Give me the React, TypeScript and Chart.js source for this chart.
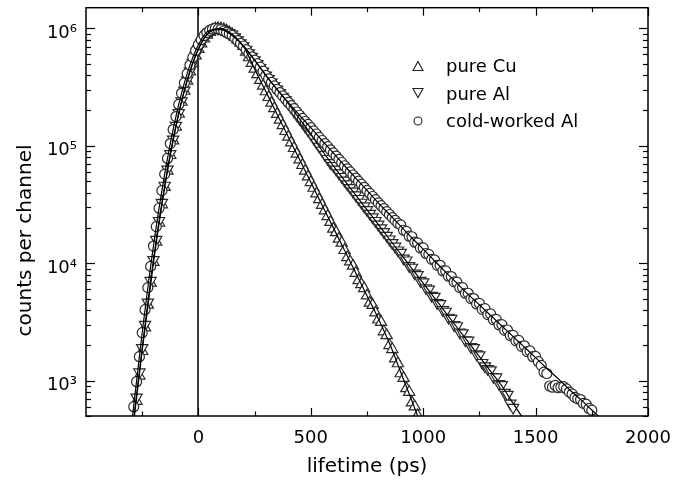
import React, { useEffect, useRef } from "react";
import { Chart, registerables } from "chart.js";

Chart.register(...registerables);

// ---- data (counts per channel, channel width 12.5 ps) ----
const CHANNEL_PS = 12.5;
const CU_START_PS = -275;
const AL_START_PS = -275;
const CW_START_PS = -287.5;

// pure Cu: -275 ps ... 975 ps
const CU_COUNTS = [
  670, 1100, 1780, 2830, 4420, 6790, 10200, 15200, 22100, 31600,
  44400, 61200, 83100, 110700, 145200, 186600, 236000, 293000, 357000, 428000,
  506000, 585000, 665000, 743000, 816000, 881000, 933000, 972000, 995000, 1000000,
  995000, 980000, 955000, 922000, 884000, 843000, 798000, 752000, 706000,
  632000, 565000, 506000, 452000, 405000, 362000, 324000, 290000, 259000, 232000,
  208000, 186000, 166000, 149000, 133000, 119000, 106500, 95300, 85300, 76300,
  68300, 61100, 54600, 48900, 43700, 39100, 35000, 31300, 28000, 25100,
  22400, 19600, 18300, 16100, 14900, 12900, 11200, 10300, 9500, 8250,
  7150, 6600, 6100, 5290, 4600, 4400, 3790, 3300, 3150,
  2620, 2430, 2000, 1850, 1540, 1400, 1150, 1050, 860, 800, 650, 600, 505,
];

// pure Al: -275 ps ... 1400 ps
const AL_COUNTS = [
  720, 1180, 1900, 3000, 4650, 7100, 10700, 15900, 23000, 32800,
  45900, 63000, 85300, 113500, 148500, 190400, 240000, 297000, 362000, 433000,
  511000, 590000, 670000, 748000, 820000, 884000, 936000, 974000, 996000, 1000000,
  990000, 973000, 944000, 918000, 891000, 841000, 794000, 750000,
  708000, 661000, 617000, 575000,
  537000, 499000, 462000, 430000,
  398000, 372000, 347000, 324000,
  302000, 282000, 263000, 246000,
  229000, 213000, 197000, 183000,
  170000, 158000, 146000, 136000,
  126000, 116000, 107000, 98900,
  91200, 84100, 77600, 71600,
  67600, 62900, 58500, 54500,
  50700, 47200, 43900, 40900,
  38000, 35400, 32900, 30600,
  28500, 26500, 24700, 23000,
  21400, 19900, 18500, 17200,
  16000, 14900, 13900, 12900,
  12300, 11000, 10600, 9500,
  9200, 8200, 7950, 7100,
  6900, 6150, 6000, 5300,
  5200, 4600, 4500, 4000,
  3880, 3450, 3380, 2980,
  2920, 2580, 2540, 2220,
  2200, 1940, 1900, 1680,
  1650, 1420, 1330, 1260,
  1230, 1080, 1070, 940,
  920, 790, 760, 640,
  590,
];

// cold-worked Al: -287.5 ps ... 1750 ps
const CW_COUNTS = [
  600, 980, 1600, 2560, 4020, 6200, 9400, 14000, 20500, 29400,
  41500, 57400, 78000, 104500, 137500, 177500, 225000, 280000, 343000, 412000,
  487000, 566000, 647000, 726000, 800000, 866000, 921000, 962000, 988000, 1000000,
  989000, 977000, 950000, 923000, 897000, 871000, 828000, 785000, 746000,
  708000, 658000, 610000, 573000,
  537000, 501000, 468000, 432000,
  398000, 372000, 347000, 324000,
  302000, 284000, 266000, 250000,
  234000, 220000, 207000, 194000,
  182000, 171000, 161000, 152000,
  143000, 134000, 126000, 118000,
  111000, 104500, 98400, 92500,
  87100, 81800, 76700, 72100,
  67600, 63700, 60000, 56400,
  53100, 50000, 47100, 44300,
  41700, 39300, 37000, 34800,
  32700, 30900, 29200, 27500,
  26000, 24500, 23200, 21900,
  21200, 19100, 18700, 17000,
  16800, 15100, 14900, 13500,
  13500, 12100, 11900, 10800,
  10700, 9600, 9600, 8600,
  8600, 7750, 7700, 6950,
  6900, 6200, 6200, 5550,
  5550, 5000, 5000, 4500,
  4550, 4050, 4100, 3650,
  3700, 3300, 3320, 2980,
  3000, 2680, 2700, 2420,
  2430, 2180, 2200, 1960,
  1980, 1770, 1790, 1600,
  1610, 1450, 1350, 1180,
  1150, 900, 880, 910,
  870, 880, 890, 850,
  800, 770, 720, 700,
  690, 640, 630, 580,
  560,
];

// fitted curves, sampled every 50 ps from -300 ps
const FIT_STEP_PS = 50;
const FIT_START_PS = -300;
const CU_FIT = [
  280, 1800, 10000, 44000, 145000, 357000, 665000, 933000, 995000, 884000,
  706000, 452000, 290000, 186000, 119000, 76300, 48900, 31300, 20100, 12900,
  8250, 5290, 3390, 2080, 1180, 670, 380, 220,
];
const AL_FIT = [
  300, 1900, 10700, 45900, 148500, 362000, 670000, 936000, 995000, 891000,
  708000, 537000, 398000, 302000, 229000, 170000, 126000, 91200, 67600, 50700,
  38000, 28500, 21400, 16000, 12000, 9010, 6760, 5070, 3800, 2850,
  2140, 1600, 1200, 900, 640, 460,
];
const CW_FIT = [
  380, 2560, 14000, 57400, 177500, 412000, 726000, 962000, 977000, 871000,
  708000, 537000, 398000, 302000, 234000, 182000, 143000, 111000, 87100, 67600,
  53100, 41700, 32700, 26000, 20700, 16400, 13200, 10500, 8410, 6760,
  5430, 4420, 3590, 2920, 2370, 1930, 1570, 1270, 1040, 841,
  692, 562, 460,
];

const SERIES_LABELS = ["pure Cu", "pure Al", "cold-worked Al"];
const X_TITLE = "lifetime (ps)";
const Y_TITLE = "counts per channel";

const X_MIN = -500;
const X_MAX = 2000;
const Y_MIN = 500;
const Y_MAX = 1.5e6;
const X_TICKS = [0, 500, 1000, 1500, 2000];
const X_MINOR_TICKS = [-250, 250, 750, 1250, 1750];
const Y_TICKS = [1e3, 1e4, 1e5, 1e6];
const Y_TICK_LABELS = ["10³", "10⁴", "10⁵", "10⁶"];

const FONT = "'DejaVu Sans', sans-serif";

function toPoints(start: number, step: number, values: number[]) {
  return values.map((v, i) => ({ x: start + i * step, y: v }));
}

const framePlugin = {
  id: "frameTicks",
  beforeDatasetsDraw(chart: any) {
    const { ctx, chartArea, scales } = chart;
    const x0 = Math.round(scales.x.getPixelForValue(0));
    ctx.save();
    ctx.strokeStyle = "#000";
    ctx.lineWidth = 1.5;
    ctx.beginPath();
    ctx.moveTo(x0, chartArea.top);
    ctx.lineTo(x0, chartArea.bottom);
    ctx.stroke();
    ctx.restore();
  },
  afterDatasetsDraw(chart: any) {
    const { ctx, chartArea, scales } = chart;
    const { left, right, top, bottom } = chartArea;
    ctx.save();
    ctx.strokeStyle = "#000";
    ctx.lineWidth = 1.5;
    ctx.strokeRect(left, top, right - left, bottom - top);
    ctx.lineWidth = 1.2;
    const seg = (a: number, b: number, c: number, d: number) => {
      ctx.beginPath();
      ctx.moveTo(a, b);
      ctx.lineTo(c, d);
      ctx.stroke();
    };
    const xt = (v: number, len: number) => {
      const p = Math.round(scales.x.getPixelForValue(v)) + 0.5;
      seg(p, bottom, p, bottom - len);
      seg(p, top, p, top + len);
    };
    X_TICKS.forEach((v) => xt(v, 8));
    X_MINOR_TICKS.forEach((v) => xt(v, 4.5));
    const yt = (v: number, len: number) => {
      const p = Math.round(scales.y.getPixelForValue(v)) + 0.5;
      seg(left, p, left + len, p);
      seg(right, p, right - len, p);
    };
    Y_TICKS.forEach((v) => yt(v, 9));
    for (let d = 100; d <= 1e6; d *= 10) {
      for (let m = 2; m <= 9; m++) {
        const v = m * d;
        if (v >= Y_MIN && v <= Y_MAX) yt(v, 5);
      }
    }
    ctx.restore();
  },
};

function LegendMarker({ kind }: { kind: number }) {
  return (
    <svg width="12" height="12" style={{ display: "block" }}>
      {kind === 0 && <polygon points="6,1.5 11,10.5 1,10.5" fill="none" stroke="#222" strokeWidth="1.1" />}
      {kind === 1 && <polygon points="1,1.5 11,1.5 6,10.5" fill="none" stroke="#222" strokeWidth="1.1" />}
      {kind === 2 && <circle cx="6" cy="6" r="4" fill="none" stroke="#222" strokeWidth="1.1" />}
    </svg>
  );
}

export default function App() {
  const canvasRef = useRef<HTMLCanvasElement | null>(null);

  useEffect(() => {
    const canvas = canvasRef.current;
    if (!canvas) return;
    const markerBase = {
      showLine: false,
      borderColor: "#2a2a2a",
      backgroundColor: "#ffffff",
      pointBorderWidth: 1.2,
    };
    const fitBase = {
      showLine: true,
      pointRadius: 0,
      borderColor: "#000",
      borderWidth: 1.2,
      cubicInterpolationMode: "monotone" as const,
      order: 0,
    };
    const chart = new Chart(canvas, {
      type: "scatter",
      data: {
        datasets: [
          {
            ...markerBase,
            label: SERIES_LABELS[0],
            data: toPoints(CU_START_PS, CHANNEL_PS, CU_COUNTS),
            pointStyle: "triangle",
            pointRadius: 6.5,
            order: 3,
          },
          {
            ...markerBase,
            label: SERIES_LABELS[1],
            data: toPoints(AL_START_PS, CHANNEL_PS, AL_COUNTS),
            pointStyle: "triangle",
            pointRotation: 180,
            pointRadius: 6.5,
            order: 2,
          },
          {
            ...markerBase,
            label: SERIES_LABELS[2],
            data: toPoints(CW_START_PS, CHANNEL_PS, CW_COUNTS),
            pointStyle: "circle",
            pointRadius: 5,
            order: 1,
          },
          { ...fitBase, label: "fit Cu", data: toPoints(FIT_START_PS, FIT_STEP_PS, CU_FIT) },
          { ...fitBase, label: "fit Al", data: toPoints(FIT_START_PS, FIT_STEP_PS, AL_FIT) },
          { ...fitBase, label: "fit cold-worked Al", data: toPoints(FIT_START_PS, FIT_STEP_PS, CW_FIT) },
        ],
      },
      options: {
        animation: false,
        responsive: false,
        devicePixelRatio: 1,
        layout: { padding: { top: 5, right: 26, left: 0, bottom: 0 } },
        plugins: {
          legend: { display: false },
          tooltip: { enabled: false },
        },
        scales: {
          x: {
            type: "linear",
            min: X_MIN,
            max: X_MAX,
            afterBuildTicks: (s: any) => {
              s.ticks = X_TICKS.map((v) => ({ value: v }));
            },
            afterFit: (s: any) => {
              s.height = 78;
              s.paddingLeft = 0;
              s.paddingRight = 0;
            },
            ticks: {
              autoSkip: false,
              maxRotation: 0,
              padding: 12,
              color: "#000",
              font: { family: FONT, size: 18 },
              callback: (v: any) => String(v),
            },
            grid: { display: false, drawTicks: false },
            border: { display: false },
            title: {
              display: true,
              text: X_TITLE,
              color: "#000",
              font: { family: FONT, size: 20 },
              padding: { top: 0, bottom: 15 },
            },
          },
          y: {
            type: "logarithmic",
            min: Y_MIN,
            max: Y_MAX,
            afterBuildTicks: (s: any) => {
              s.ticks = Y_TICKS.map((v) => ({ value: v }));
            },
            afterFit: (s: any) => {
              s.width = 86;
              s.paddingTop = 0;
              s.paddingBottom = 0;
            },
            ticks: {
              autoSkip: false,
              padding: 9,
              labelOffset: 5,
              color: "#000",
              font: { family: FONT, size: 18 },
              callback: (v: any) => {
                const i = Y_TICKS.indexOf(Number(v));
                return i >= 0 ? Y_TICK_LABELS[i] : "";
              },
            },
            grid: { display: false, drawTicks: false },
            border: { display: false },
            title: {
              display: true,
              text: Y_TITLE + "         ",
              color: "#000",
              font: { family: FONT, size: 20 },
              padding: { top: 14, bottom: 0 },
            },
          },
        },
      },
      plugins: [framePlugin],
    });
    return () => chart.destroy();
  }, []);

  return (
    <div style={{ position: "absolute", left: 0, top: 0, width: 674, height: 494, background: "#fff" }}>
      <canvas ref={canvasRef} width={674} height={494} style={{ width: 674, height: 494, display: "block" }} />
      <div
        style={{
          position: "absolute",
          left: 412,
          top: 52,
          fontFamily: FONT,
          fontSize: 18,
          lineHeight: "27.5px",
          color: "#000",
        }}
      >
        {SERIES_LABELS.map((label, i) => (
          <div key={label} style={{ display: "flex", alignItems: "center", height: 27.5 }}>
            <LegendMarker kind={i} />
            <span style={{ marginLeft: 22, whiteSpace: "nowrap" }}>{label}</span>
          </div>
        ))}
      </div>
    </div>
  );
}
